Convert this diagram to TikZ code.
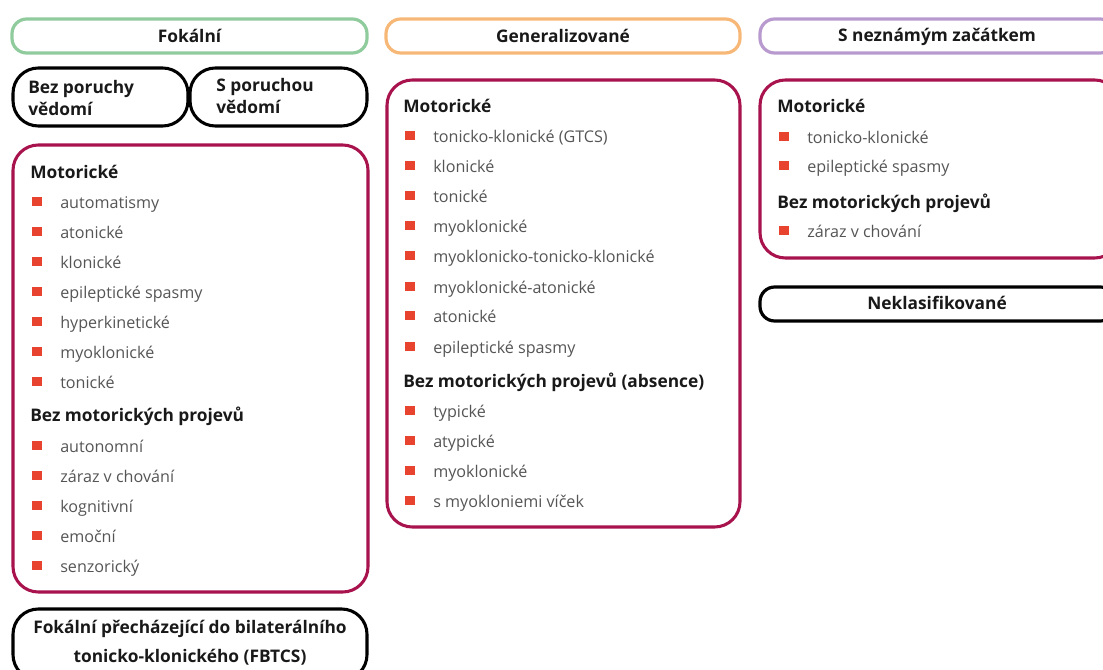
\documentclass[tikz,border=0pt]{standalone}
\usepackage{fontspec}
\setmainfont{Open Sans}
\usetikzlibrary{fit}
\definecolor{crim}{HTML}{A8134E}
\definecolor{bul}{HTML}{E8432E}
\definecolor{grn}{HTML}{8FCB9C}
\definecolor{org}{HTML}{F7B877}
\definecolor{pur}{HTML}{B99ACF}
\definecolor{itemtxt}{HTML}{555555}
\tikzset{
  frame/.style={draw, line width=2.4pt, inner sep=0pt, rounded corners=11pt},
  listbox/.style={draw=crim, line width=2.3pt, inner sep=0pt, rounded corners=19pt},
  pill/.style={draw=black, line width=2.3pt, inner sep=0pt, rounded corners=19pt},
  hdrtext/.style={font=\bfseries\fontsize{13}{17}\selectfont, text=black!90, inner sep=0pt},
  twoline/.style={font=\bfseries\fontsize{13}{17}\selectfont, text=black!90, anchor=west, inner sep=0pt, align=left},
  headtext/.style={font=\bfseries\fontsize{13}{17}\selectfont, text=black!90, anchor=west, inner sep=0pt,
    text height=10pt, text depth=0pt},
  itemtext/.style={font=\fontsize{12.1}{14}\selectfont, text=itemtxt, anchor=west, inner sep=0pt,
    text height=9.5pt, text depth=0pt},
  bullet/.style={fill=bul, minimum size=7pt, inner sep=0pt},
}
\newcommand\itm[4]{% name, x bullet, y, text
  \node[bullet] (#1b) at (#2,#3-0.5) {};
  \node[itemtext] (#1) at (#2+23,#3) {#4};
}
\begin{document}
\begin{tikzpicture}[x=0.75pt,y=-0.75pt]
\useasboundingbox (0,0) rectangle (1103,670);
\clip (0,0) rectangle (1103,670);

% ---------- headers ----------
\node[frame, draw=grn, fit={(12,19) (367,53)}] (hfok) {};
\node[hdrtext] (tfok) at (hfok.center) {Fokální};
\node[frame, draw=org, fit={(386,19) (740,53)}] (hgen) {};
\node[hdrtext] (tgen) at (hgen.center) {Generalizované};
\node[frame, draw=pur, fit={(760,19) (1115,53)}] (hunk) {};
\node[hdrtext] (tunk) at (937,37) {S neznámým začátkem};

% ---------- awareness ----------
\node[pill, fit={(13,68) (188,126)}] (bez) {};
\node[twoline] (tbez) at (28,98) {Bez poruchy\\vědomí};
\node[pill, fit={(190,68) (367,126)}] (spo) {};
\node[twoline] (tspo) at (216,96) {S poruchou\\vědomí};

% ---------- focal list ----------
\node[listbox, fit={(13,145) (368,592)}] (fmot) {};
\node[headtext] (fmh) at (30,172) {Motorické};
\itm{f1}{37}{202}{automatismy}
\itm{f2}{37}{232}{atonické}
\itm{f3}{37}{262}{klonické}
\itm{f4}{37}{292}{epileptické spasmy}
\itm{f5}{37}{322}{hyperkinetické}
\itm{f6}{37}{352}{myoklonické}
\itm{f7}{37}{382}{tonické}
\node[headtext] (fnh) at (30,415) {Bez motorických projevů};
\itm{f8}{37}{446}{autonomní}
\itm{f9}{37}{476}{záraz v chování}
\itm{f10}{37}{506}{kognitivní}
\itm{f11}{37}{536}{emoční}
\itm{f12}{37}{566}{senzorický}

% ---------- FBTCS ----------
\node[pill, fit={(13,609) (367,680)}] (fbt) {};
\node[hdrtext, align=center] (tfbt) at (190,643) {Fokální přecházející do bilaterálního\\[5pt]tonicko-klonického (FBTCS)};

% ---------- generalized list ----------
\node[listbox, fit={(387,80) (740,527)}] (gmot) {};
\node[headtext] (gmh) at (403,106) {Motorické};
\itm{g1}{410}{136}{tonicko-klonické (GTCS)}
\itm{g2}{410}{166}{klonické}
\itm{g3}{410}{196}{tonické}
\itm{g4}{410}{226}{myoklonické}
\itm{g5}{410}{256}{myoklonicko-tonicko-klonické}
\itm{g6}{410}{287}{myoklonické-atonické}
\itm{g7}{410}{316}{atonické}
\itm{g8}{410}{347}{epileptické spasmy}
\node[headtext] (gnh) at (403,381) {Bez motorických projevů (absence)};
\itm{g9}{410}{411}{typické}
\itm{g10}{410}{441}{atypické}
\itm{g11}{410}{471}{myoklonické}
\itm{g12}{410}{501}{s myokloniemi víček}

% ---------- unknown list ----------
\node[listbox, fit={(760,80) (1120,258)}] (umot) {};
\node[headtext] (umh) at (777,106) {Motorické};
\itm{u1}{784}{137}{tonicko-klonické}
\itm{u2}{784}{166}{epileptické spasmy}
\node[headtext] (unh) at (777,202) {Bez motorických projevů};
\itm{u3}{784}{231}{záraz v chování}

% ---------- unclassified ----------
\node[frame, draw=black, fit={(760,287) (1115,321)}] (ncl) {};
\node[hdrtext] (tncl) at (937,303) {Neklasifikované};
\end{tikzpicture}
\end{document}
